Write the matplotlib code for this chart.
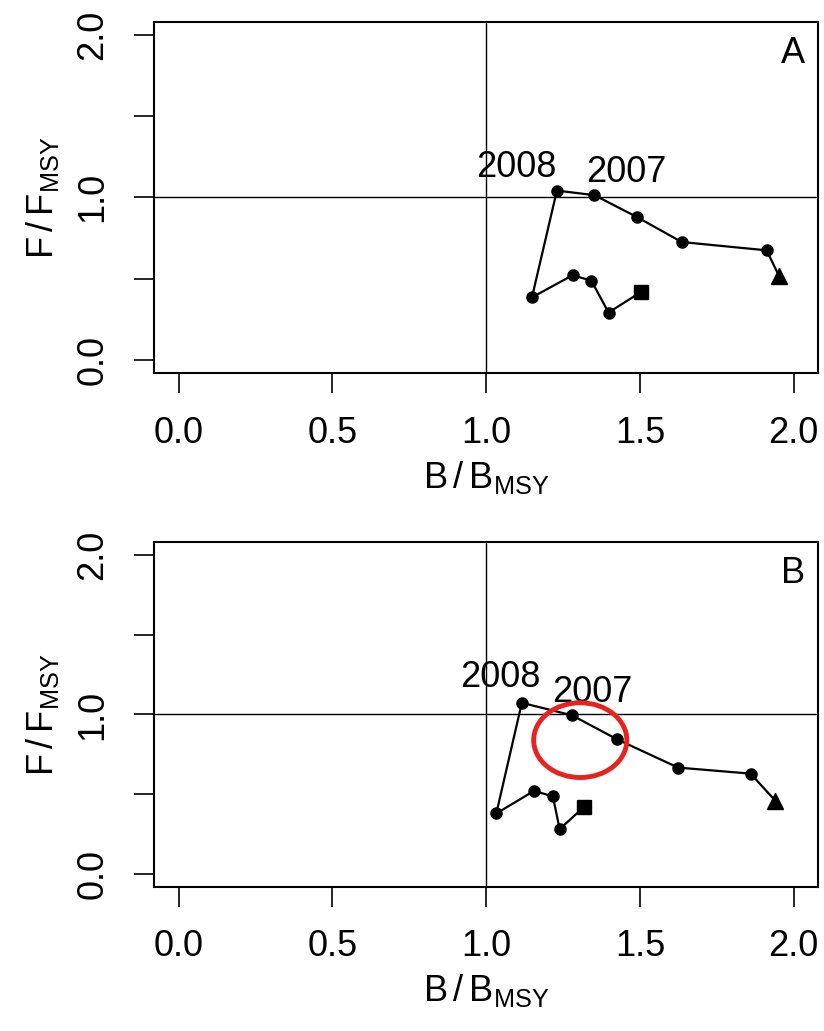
import matplotlib
matplotlib.use("Agg")
import matplotlib.pyplot as plt
from matplotlib.patches import Ellipse

plt.rcParams['font.family'] = ['Liberation Sans', 'DejaVu Sans']
plt.rcParams['mathtext.fontset'] = 'custom'
plt.rcParams['mathtext.rm'] = 'Liberation Sans'

# Panel A: B/Bmsy, F/Fmsy (first point = triangle, last point = square)
b_a = [1.952, 1.912, 1.636, 1.491, 1.352, 1.230, 1.149, 1.281, 1.342, 1.398, 1.502]
f_a = [0.520, 0.675, 0.726, 0.879, 1.014, 1.042, 0.386, 0.522, 0.489, 0.293, 0.417]

# Panel B
b_b = [1.941, 1.860, 1.624, 1.426, 1.279, 1.116, 1.033, 1.156, 1.217, 1.239, 1.319]
f_b = [0.458, 0.629, 0.667, 0.844, 0.995, 1.073, 0.379, 0.521, 0.486, 0.281, 0.421]

years = ["2007", "2008"]

xticks = [0.0, 0.5, 1.0, 1.5, 2.0]
xticklabels = ["0.0", "0.5", "1.0", "1.5", "2.0"]
yticks = [0.0, 0.5, 1.0, 1.5, 2.0]
yticklabels = ["0.0", "", "1.0", "", "2.0"]

fig = plt.figure(figsize=(8.24, 10.31), dpi=100)
ax_a = fig.add_axes([0.187, 0.638, 0.806, 0.341])
ax_b = fig.add_axes([0.187, 0.140, 0.806, 0.334])

FS = 26


def draw_panel(ax, bb, ff, letter, lab08, lab07):
    ax.axhline(1.0, color="black", lw=1.0, zorder=1)
    ax.axvline(1.0, color="black", lw=1.0, zorder=1)
    ax.plot(bb, ff, color="black", lw=1.6, zorder=2)
    ax.plot(bb[1:-1], ff[1:-1], "o", color="black", ms=8, zorder=3)
    ax.plot(bb[0], ff[0], "^", color="black", ms=12, zorder=3)
    ax.plot(bb[-1], ff[-1], "s", color="black", ms=10, zorder=3)
    ax.text(lab08[0], lab08[1], years[1], fontsize=FS, ha="center", va="center")
    ax.text(lab07[0], lab07[1], years[0], fontsize=FS, ha="center", va="center")
    ax.text(0.962, 0.91, letter, transform=ax.transAxes, fontsize=FS,
            ha="center", va="center")

    ax.set_xlim(-0.08, 2.08)
    ax.set_ylim(-0.08, 2.08)
    ax.set_xticks(xticks)
    ax.set_xticklabels(xticklabels)
    ax.set_yticks(yticks)
    ax.set_yticklabels(yticklabels)
    ax.tick_params(axis="both", labelsize=FS, length=14.5, width=1.2,
                   direction="out", pad=16)
    ax.tick_params(axis="y", labelrotation=90, pad=17)
    for lbl in ax.get_yticklabels():
        lbl.set_va("center")
    for sp in ax.spines.values():
        sp.set_linewidth(1.5)
    ax.set_xlabel(r"$\mathregular{B\,/\,B_{MSY}}$", fontsize=FS, labelpad=6)
    ax.set_ylabel(r"$\mathregular{F\,/\,F_{MSY}}$", fontsize=FS, labelpad=10)


draw_panel(ax_a, b_a, f_a, "A", (1.098, 1.183), (1.456, 1.152))
draw_panel(ax_b, b_b, f_b, "B", (1.047, 1.231), (1.345, 1.137))

# red highlight ring in panel B
ring = Ellipse((1.306, 0.839), 0.303, 0.469, fill=False, edgecolor="#e8231f",
               lw=3.5, zorder=4)
ax_b.add_patch(ring)

fig.savefig("out.png", dpi=100, facecolor="white")
